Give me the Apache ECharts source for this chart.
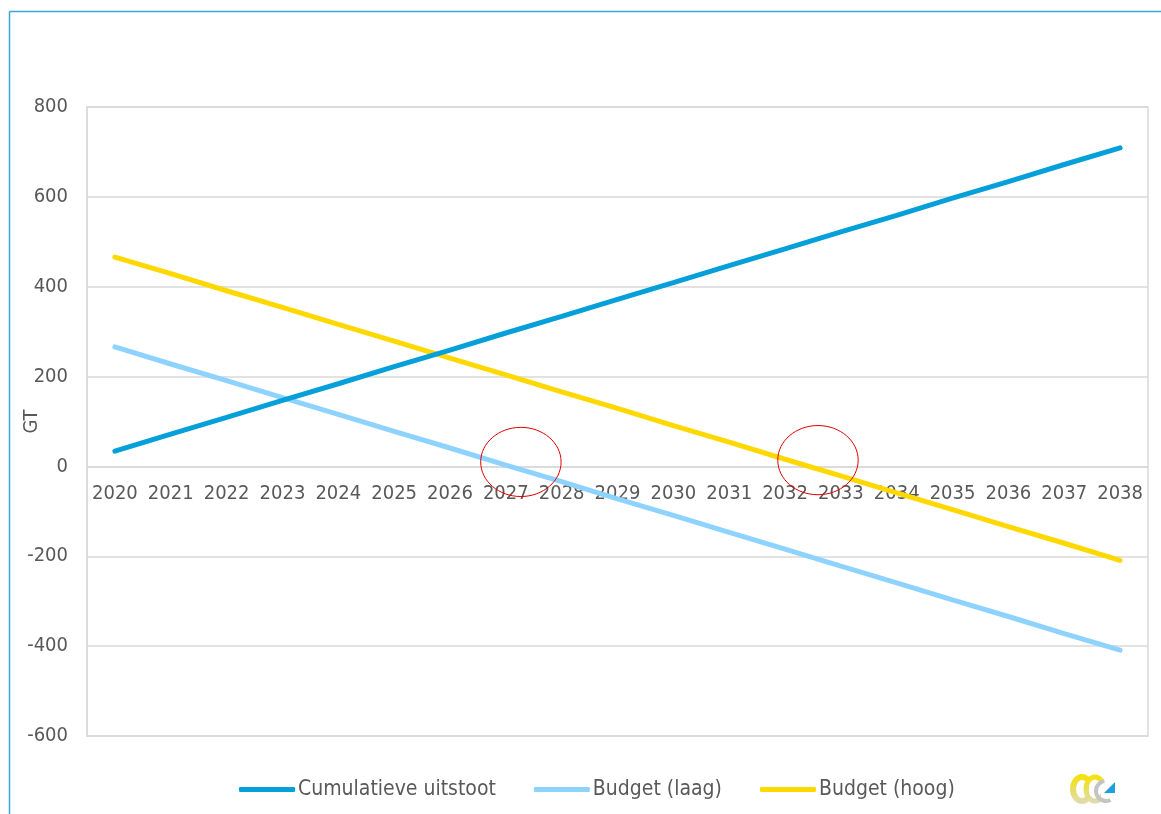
<!DOCTYPE html>
<html>
<head>
<meta charset="utf-8">
<script src="https://cdn.jsdelivr.net/npm/echarts@6/dist/echarts.min.js"></script>
<style>html,body{margin:0;padding:0;background:#fff;}#c{width:1161px;height:814px;}</style>
</head>
<body>
<div id="c"></div>
<script>
var years = ['2020','2021','2022','2023','2024','2025','2026','2027','2028','2029','2030','2031','2032','2033','2034','2035','2036','2037','2038'];
var cumulatief = [34, 72, 109, 147, 184, 222, 259, 297, 334, 372, 409, 447, 484, 522, 559, 597, 634, 672, 709];
var budgetLaag = [266, 228, 191, 153, 116, 78, 41, 3, -34, -72, -109, -147, -184, -222, -259, -297, -334, -372, -409];
var budgetHoog = [466, 429, 391, 354, 316, 279, 241, 204, 166, 129, 91, 54, 16, -21, -59, -96, -134, -171, -209];
var yTicks = {min: -600, max: 800, interval: 200};
var seriesNames = ['Cumulatieve uitstoot', 'Budget (laag)', 'Budget (hoog)'];
// annotation ellipses: [category index, GT value], radii in [categories, GT]
var circleCenters = [[7.27, 10], [12.59, 14]];
var circleRadii = [0.72, 77];

var font = 'DejaVu Sans Condensed';
var txt = '#595959';
var gridCol = '#d9d9d9';
var chart = echarts.init(document.getElementById('c'), null, {renderer: 'canvas'});

var option = {
  animation: false,
  backgroundColor: '#ffffff',
  grid: {left: 87, right: 13, top: 107, bottom: 78, show: true, borderColor: gridCol, borderWidth: 1.5, containLabel: false, outerBoundsMode: 'none'},
  legend: {
    left: 234, top: 774,
    itemWidth: 56, itemHeight: 5, itemGap: 38,
    icon: 'roundRect',
    textStyle: {fontFamily: font, fontSize: 21, color: txt, padding: [0, 0, 0, -2]},
    data: seriesNames
  },
  xAxis: {
    type: 'category',
    data: years,
    boundaryGap: true,
    axisLine: {onZero: false, lineStyle: {color: gridCol, width: 1.5}},
    axisTick: {show: false},
    axisLabel: {fontFamily: font, fontSize: 20, color: txt, margin: 17, interval: 0},
    splitLine: {show: false}
  },
  yAxis: {
    type: 'value',
    min: yTicks.min, max: yTicks.max, interval: yTicks.interval,
    name: 'GT', nameLocation: 'middle', nameRotate: 90, nameGap: 45, nameMoveOverlap: false,
    nameTextStyle: {fontFamily: font, fontSize: 20, color: txt},
    axisLine: {show: true, lineStyle: {color: gridCol, width: 1.5}},
    axisTick: {show: false},
    axisLabel: {fontFamily: font, fontSize: 20, color: txt, margin: 19},
    splitLine: {show: true, lineStyle: {color: gridCol, width: 1.5}}
  },
  series: [
    {name: seriesNames[0], type: 'line', data: cumulatief, symbol: 'none', color: '#05a0da', lineStyle: {width: 5, cap: 'round', color: '#05a0da'}, z: 3},
    {name: seriesNames[1], type: 'line', data: budgetLaag, symbol: 'none', color: '#8ed3ff', lineStyle: {width: 5, cap: 'round', color: '#8ed3ff'}, z: 2},
    {name: seriesNames[2], type: 'line', data: budgetHoog, symbol: 'none', color: '#ffd800', lineStyle: {width: 5, cap: 'round', color: '#ffd800'}, z: 2}
  ]
};
chart.setOption(option);

// move the category axis onto the zero line
var zeroY = chart.convertToPixel({yAxisIndex: 0}, 0);
var bottomY = chart.convertToPixel({yAxisIndex: 0}, yTicks.min);
chart.setOption({xAxis: {offset: zeroY - bottomY}});

function px(idx, val) {
  var i0 = Math.floor(idx), f = idx - i0;
  var a = chart.convertToPixel({gridIndex: 0}, [i0, val]);
  var b = chart.convertToPixel({gridIndex: 0}, [i0 + 1, val]);
  return [a[0] + (b[0] - a[0]) * f, a[1]];
}
var graphics = [];
circleCenters.forEach(function (c) {
  var p = px(c[0], c[1]);
  var pr = px(c[0] + circleRadii[0], c[1] + circleRadii[1]);
  graphics.push({
    type: 'ellipse', z: 100,
    shape: {cx: p[0], cy: p[1], rx: Math.abs(pr[0] - p[0]), ry: Math.abs(p[1] - pr[1])},
    style: {fill: null, stroke: '#e00000', lineWidth: 1}
  });
});
// outer frame
graphics.push({type: 'line', shape: {x1: 9.5, y1: 11.5, x2: 9.5, y2: 814}, style: {stroke: '#3aa7d6', lineWidth: 1.5}});
graphics.push({type: 'line', shape: {x1: 9.5, y1: 11.5, x2: 1161, y2: 11.5}, style: {stroke: '#3aa7d6', lineWidth: 1.5}});
// logo
var yGrad = new echarts.graphic.LinearGradient(0, 0, 0, 1, [{offset: 0, color: '#f7e200'}, {offset: 1, color: '#dedbb8'}]);
graphics.push({type: 'ellipse', shape: {cx: 1082, cy: 789, rx: 9, ry: 12}, style: {stroke: yGrad, lineWidth: 6, fill: null}});
graphics.push({type: 'rect', shape: {x: 1089, y: 780, width: 6, height: 18}, style: {fill: '#fff'}});
graphics.push({type: 'ellipse', shape: {cx: 1095, cy: 789, rx: 9, ry: 12}, style: {stroke: yGrad, lineWidth: 5, fill: null}});
graphics.push({type: 'rect', shape: {x: 1101, y: 780, width: 6, height: 18}, style: {fill: '#fff'}});
graphics.push({type: 'arc', shape: {cx: 1106, cy: 791, r: 10, startAngle: Math.PI * 0.35, endAngle: Math.PI * 1.45, clockwise: true}, style: {stroke: '#c4c4c4', lineWidth: 4, fill: null}});
graphics.push({type: 'polygon', shape: {points: [[1104, 793], [1115, 793], [1115, 782]]}, style: {fill: '#1ea0e0'}});
chart.setOption({graphic: graphics});
</script>
</body>
</html>
